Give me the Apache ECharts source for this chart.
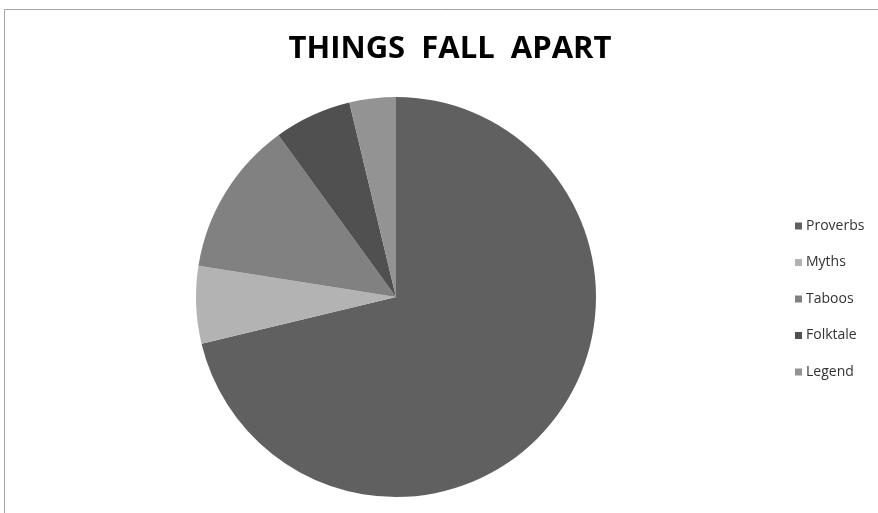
<!DOCTYPE html>
<html>
<head>
<meta charset="utf-8">
<script src="https://cdn.jsdelivr.net/npm/echarts@6/dist/echarts.min.js"></script>
<style>
  html, body { margin: 0; padding: 0; background: #fff; }
  #chart { width: 878px; height: 513px; }
</style>
</head>
<body>
<div id="chart"></div>
<script>
// counts of each folklore element
const categories = ['Proverbs', 'Myths', 'Taboos', 'Folktale', 'Legend'];
const counts = [57, 5, 10, 5, 3];
const colors = ['#606060', '#b3b3b3', '#818181', '#505050', '#939393'];

const chart = echarts.init(document.getElementById('chart'));

chart.setOption({
  animation: false,
  color: colors,
  title: {
    text: 'THINGS  FALL  APART',
    left: 445,
    textAlign: 'center',
    top: 29,
    textStyle: { fontFamily: 'Open Sans', fontWeight: 'bold', fontSize: 31, color: '#000' }
  },
  legend: {
    orient: 'vertical',
    left: 790,
    top: 213,
    itemWidth: 7,
    itemHeight: 7,
    itemGap: 20.5,
    icon: 'rect',
    data: categories,
    textStyle: { fontFamily: 'Open Sans', fontSize: 14, color: '#333', lineHeight: 16, padding: [0, 0, 0, -1] }
  },
  graphic: [{
    type: 'rect',
    shape: { x: 4.5, y: 9.5, width: 890, height: 520 },
    style: { fill: 'none', stroke: '#a6a6a6', lineWidth: 1 },
    silent: true
  }],
  series: [{
    type: 'pie',
    center: [396, 297],
    radius: 200,
    startAngle: 90,
    clockwise: true,
    label: { show: false },
    labelLine: { show: false },
    itemStyle: { borderWidth: 0 },
    emphasis: { disabled: true },
    data: categories.map((name, i) => ({ name, value: counts[i] }))
  }]
});
</script>
</body>
</html>
